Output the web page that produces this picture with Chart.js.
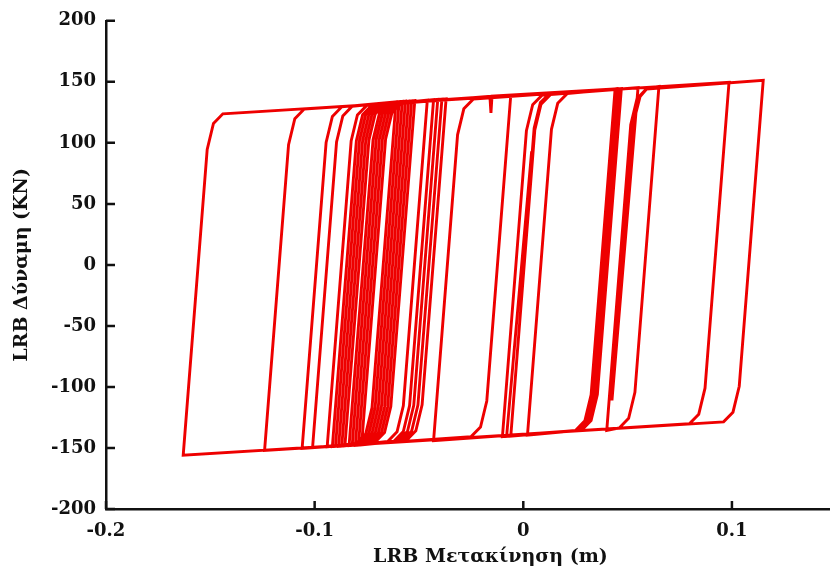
<!DOCTYPE html>
<html>
<head>
<meta charset="utf-8">
<title>LRB hysteresis</title>
<script src="https://cdn.jsdelivr.net/npm/chart.js@4.4.0/dist/chart.umd.min.js"></script>
<style>
  html, body { margin: 0; padding: 0; background: #fff; }
</style>
</head>
<body>
<canvas id="lrbChart" width="830" height="571"></canvas>
<script>
// path of the isolator loop (m, kN), one row per branch
const displacement = [
  0, 0.0052, 0.0082, 0.0127,
  0.0445, 0.033, 0.030, 0.0255,
  -0.010, 0.0015, 0.0045, 0.009,
  0.046, 0.0345, 0.0315, 0.027,
  -0.006, 0.0055, 0.0085, 0.013,
  0.055, 0.0425, 0.053, 0.056, 0.0595,
  0.065, 0.0535, 0.0505, 0.046,
  0.040, 0.0515, 0.0545, 0.059,
  0.115, 0.1035, 0.1005, 0.096,
  -0.163, -0.1515, -0.1485, -0.144,
  0.0986, 0.0871, 0.0841, 0.0796,
  -0.124, -0.1125, -0.1095, -0.105,
  -0.006, -0.0175, -0.0205, -0.025,
  -0.106, -0.0945, -0.0915, -0.087,
  -0.061, -0.0725, -0.0755, -0.080,
  -0.101, -0.0895, -0.0865, -0.082,
  -0.0595, -0.071, -0.074, -0.0785,
  -0.094, -0.0825, -0.0795, -0.075,
  -0.058, -0.0695, -0.0725, -0.077,
  -0.0915, -0.080, -0.077, -0.0725,
  -0.0565, -0.068, -0.071, -0.0755,
  -0.090, -0.0785, -0.0755, -0.071,
  -0.055, -0.0665, -0.0695, -0.074,
  -0.0885, -0.077, -0.074, -0.0695,
  -0.0535, -0.065, -0.068, -0.0725,
  -0.087, -0.0755, -0.0725, -0.068,
  -0.052, -0.0635, -0.0665, -0.071,
  -0.0855, -0.074, -0.071, -0.0665,
  -0.046, -0.0575, -0.0605, -0.065,
  -0.0835, -0.072, -0.069, -0.0645,
  -0.043, -0.0545, -0.0575, -0.062,
  -0.082, -0.0705, -0.0675, -0.063,
  -0.041, -0.0525, -0.0555, -0.060,
  -0.0805, -0.069, -0.066, -0.0615,
  -0.039, -0.0505, -0.0535, -0.058,
  -0.079, -0.0675, -0.0645, -0.060,
  -0.037, -0.0485, -0.0515, -0.056,
  -0.0775, -0.066, -0.063, -0.0585,
  -0.016, -0.0155, -0.015,
  0.045, 0.0335, 0.0305, 0.026,
  -0.043, -0.0315, -0.0285, -0.024,
  0.047, 0.0355, 0.0325, 0.028,
  0.002, 0.0135, 0.0165, 0.021,
  0.044, 0.0325, 0.0295, 0.025,
  -0.008, 0.004, -0.0007
];
const force = [
  0, 112, 133, 140.6,
  144.2, -106.4, -127.7, -135.7,
  -140.7, 109.9, 131.2, 139.1,
  144.3, -106.3, -127.6, -135.5,
  -140.3, 110.3, 131.6, 139.5,
  145.2, -111.0, 118, 138, 144.9,
  146.2, -104.4, -125.7, -133.6,
  -135.7, 114.9, 136.2, 144.1,
  151.2, -99.4, -120.7, -128.6,
  -156.0, 94.6, 115.9, 123.8,
  149.6, -101.0, -122.3, -130.2,
  -152.1, 98.5, 119.8, 127.7,
  139.1, -111.5, -132.8, -140.7,
  -150.3, 100.3, 121.6, 129.5,
  133.6, -117.0, -138.3, -146.2,
  -149.8, 100.8, 122.1, 130.0,
  133.8, -116.8, -138.1, -146.1,
  -149.1, 101.5, 122.8, 130.7,
  133.9, -116.7, -138.0, -145.9,
  -148.9, 101.7, 123.0, 131.0,
  134.1, -116.5, -137.8, -145.8,
  -148.7, 101.9, 123.2, 131.1,
  134.2, -116.4, -137.7, -145.6,
  -148.6, 102.0, 123.3, 131.3,
  134.4, -116.2, -137.5, -145.5,
  -148.4, 102.2, 123.5, 131.4,
  134.5, -116.1, -137.4, -145.3,
  -148.3, 102.3, 123.6, 131.6,
  135.1, -115.5, -136.8, -144.7,
  -148.1, 102.5, 123.8, 131.8,
  135.4, -115.2, -136.5, -144.4,
  -147.9, 102.7, 124.0, 131.9,
  135.6, -115.0, -136.3, -144.2,
  -147.8, 102.8, 124.1, 132.1,
  135.8, -114.8, -136.1, -144.0,
  -147.6, 103.0, 124.3, 132.2,
  136.0, -114.6, -135.9, -143.8,
  -147.5, 103.1, 124.4, 132.4,
  138.1, 124.5, 138.2,
  144.2, -106.4, -127.7, -135.6,
  -144.0, 106.6, 127.9, 135.8,
  144.4, -106.2, -127.5, -135.4,
  -139.5, 111.1, 132.4, 140.3,
  144.1, -106.5, -127.8, -135.7,
  -140.5, 93.0, 0
];
const xTicks = [-0.2, -0.1, 0, 0.1];
const yTicks = [-200, -150, -100, -50, 0, 50, 100, 150, 200];
const xTitle = 'LRB Μετακίνηση (m)';
const yTitle = 'LRB Δύναμη (KN)';

const tickFont = { family: 'DejaVu Serif', size: 18, weight: 'bold' };
const titleFont = { family: 'DejaVu Serif', size: 19, weight: 'bold' };

// the original ticks point into the plot, and its x title sits a bit right of centre
const axisExtras = {
  id: 'axisExtras',
  afterDraw(chart) {
    const ctx = chart.ctx;
    const x = chart.scales.x;
    const y = chart.scales.y;
    ctx.save();
    ctx.strokeStyle = '#111';
    ctx.lineWidth = 2.5;
    ctx.beginPath();
    x.ticks.forEach(t => {
      const px = x.getPixelForValue(t.value);
      ctx.moveTo(px, x.top);
      ctx.lineTo(px, x.top - 8);
    });
    y.ticks.forEach(t => {
      const py = y.getPixelForValue(t.value);
      ctx.moveTo(y.right, py);
      ctx.lineTo(y.right + 9, py);
    });
    ctx.stroke();
    ctx.fillStyle = '#111';
    ctx.font = 'bold 19px "DejaVu Serif"';
    ctx.textAlign = 'center';
    ctx.textBaseline = 'middle';
    ctx.fillText(xTitle, x.left + (x.right - x.left) * 0.531, 557);
    ctx.restore();
  }
};

new Chart(document.getElementById('lrbChart'), {
  type: 'scatter',
  data: {
    datasets: [{
      label: 'LRB',
      data: displacement.map((d, i) => ({ x: d, y: force[i] })),
      showLine: true,
      borderColor: '#ee0000',
      borderWidth: 2.9,
      pointRadius: 0,
      tension: 0
    }]
  },
  options: {
    responsive: false,
    animation: false,
    devicePixelRatio: 1,
    layout: { padding: { top: 19, right: 0, left: 7, bottom: 0 } },
    plugins: {
      legend: { display: false },
      tooltip: { enabled: false }
    },
    scales: {
      x: {
        type: 'linear',
        min: -0.2,
        max: 0.147,
        afterBuildTicks: s => { s.ticks = xTicks.map(v => ({ value: v })); },
        afterFit: s => { s.height = 62; },
        grid: { display: false, drawTicks: false },
        border: { color: '#111', width: 2.5 },
        ticks: { color: '#111', font: tickFont, padding: 12 },
        title: { display: false }
      },
      y: {
        type: 'linear',
        min: -200,
        max: 200,
        afterBuildTicks: s => { s.ticks = yTicks.map(v => ({ value: v })); },
        afterFit: s => { s.width = 99; },
        grid: { display: false, drawTicks: false },
        border: { color: '#111', width: 2.5 },
        ticks: { color: '#111', font: tickFont, padding: 10 },
        title: { display: true, text: yTitle, color: '#111', font: titleFont, padding: 4 }
      }
    }
  },
  plugins: [axisExtras]
});
</script>
</body>
</html>
